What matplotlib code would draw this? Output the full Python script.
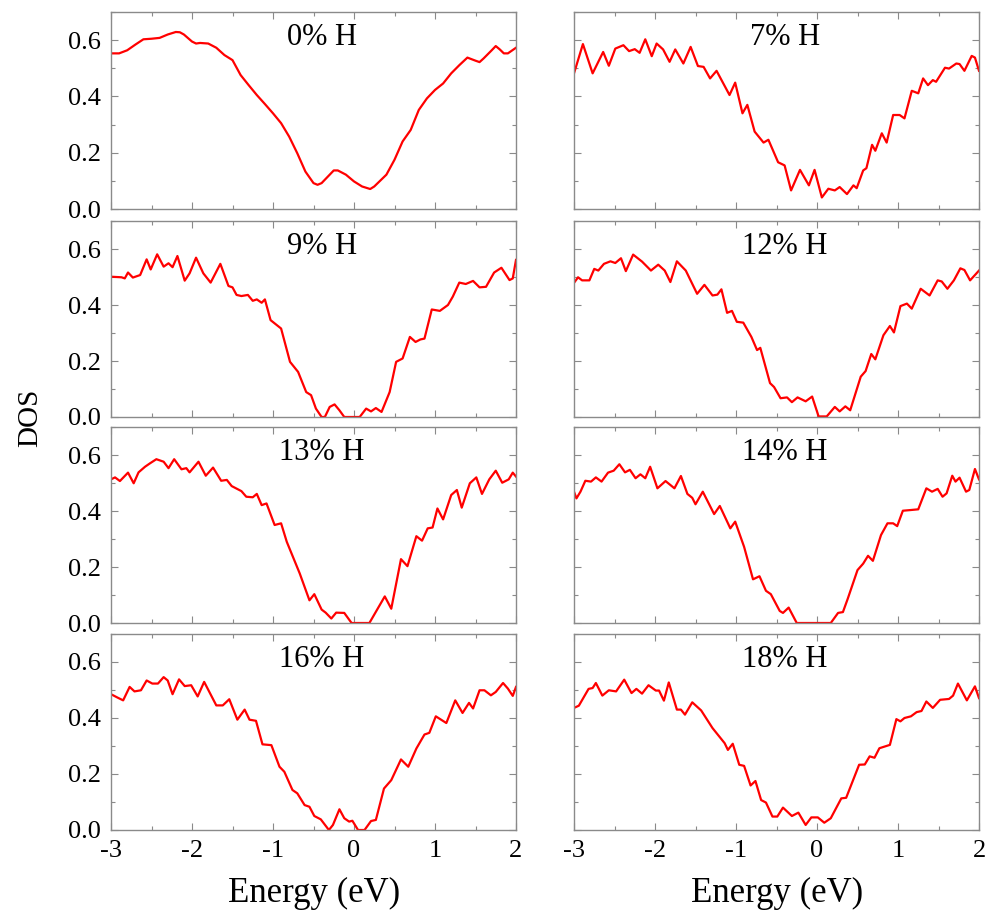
import matplotlib
matplotlib.use("Agg")
import matplotlib.pyplot as plt
from matplotlib.ticker import MultipleLocator

plt.rcParams["font.family"] = ["Liberation Serif", "DejaVu Serif"]

# energy (eV) and DOS
e_0 = [-3.0, -2.9, -2.8, -2.7, -2.6, -2.5, -2.4, -2.3, -2.2, -2.15, -2.1, -2.0, -1.95, -1.9,
       -1.8, -1.7, -1.6, -1.5, -1.4, -1.3, -1.2, -1.1, -1.0, -0.9, -0.8, -0.7, -0.6, -0.5,
       -0.45, -0.4, -0.3, -0.25, -0.2, -0.1, 0.0, 0.1, 0.2, 0.25, 0.3, 0.4, 0.5, 0.6, 0.7,
       0.8, 0.9, 1.0, 1.1, 1.2, 1.3, 1.4, 1.5, 1.55, 1.6, 1.7, 1.75, 1.8, 1.85, 1.9, 2.0]
dos_0 = [0.553, 0.553, 0.564, 0.584, 0.603, 0.605, 0.608, 0.62, 0.629, 0.628, 0.62, 0.595,
         0.588, 0.59, 0.588, 0.573, 0.547, 0.529, 0.476, 0.44, 0.405, 0.373, 0.34, 0.305,
         0.257, 0.198, 0.133, 0.092, 0.086, 0.092, 0.122, 0.137, 0.137, 0.122, 0.098, 0.08,
         0.071, 0.08, 0.094, 0.122, 0.175, 0.24, 0.281, 0.352, 0.393, 0.423, 0.446, 0.482,
         0.511, 0.538, 0.527, 0.522, 0.535, 0.564, 0.579, 0.567, 0.553, 0.553, 0.573]

e_7 = [-3.0, -2.89, -2.77, -2.64, -2.57, -2.49, -2.39, -2.32, -2.25, -2.19, -2.12, -2.04,
       -1.98, -1.9, -1.82, -1.75, -1.65, -1.56, -1.47, -1.4, -1.32, -1.24, -1.08, -1.01,
       -0.92, -0.86, -0.77, -0.66, -0.6, -0.48, -0.4, -0.32, -0.21, -0.1, -0.03, 0.06,
       0.14, 0.22, 0.28, 0.37, 0.45, 0.49, 0.57, 0.61, 0.68, 0.72, 0.8, 0.86, 0.94, 1.02,
       1.08, 1.17, 1.25, 1.31, 1.37, 1.43, 1.47, 1.58, 1.63, 1.72, 1.76, 1.82, 1.91, 1.95, 2.0]
dos_7 = [0.482, 0.586, 0.482, 0.558, 0.509, 0.57, 0.582, 0.561, 0.568, 0.555, 0.603, 0.543,
         0.588, 0.567, 0.523, 0.567, 0.517, 0.576, 0.508, 0.505, 0.464, 0.491, 0.405, 0.449,
         0.34, 0.37, 0.275, 0.236, 0.246, 0.166, 0.155, 0.066, 0.139, 0.084, 0.139, 0.041,
         0.072, 0.066, 0.078, 0.053, 0.084, 0.074, 0.137, 0.145, 0.228, 0.207, 0.269, 0.236,
         0.334, 0.334, 0.322, 0.42, 0.411, 0.464, 0.44, 0.458, 0.452, 0.502, 0.499, 0.517,
         0.515, 0.491, 0.544, 0.538, 0.491]

e_9 = [-3.0, -2.87, -2.83, -2.79, -2.73, -2.64, -2.56, -2.51, -2.43, -2.35, -2.29, -2.24,
       -2.18, -2.09, -2.03, -1.95, -1.86, -1.77, -1.65, -1.55, -1.5, -1.45, -1.39, -1.31,
       -1.25, -1.2, -1.14, -1.1, -1.03, -0.9, -0.79, -0.69, -0.59, -0.53, -0.47, -0.4,
       -0.36, -0.3, -0.24, -0.18, -0.12, 0.07, 0.15, 0.21, 0.27, 0.34, 0.44, 0.52, 0.6,
       0.69, 0.76, 0.82, 0.87, 0.96, 1.06, 1.16, 1.22, 1.3, 1.38, 1.47, 1.55, 1.63, 1.73,
       1.82, 1.92, 1.96, 2.0]
dos_9 = [0.501, 0.499, 0.495, 0.516, 0.498, 0.507, 0.563, 0.527, 0.581, 0.537, 0.549, 0.535,
         0.575, 0.487, 0.513, 0.569, 0.513, 0.48, 0.547, 0.468, 0.463, 0.436, 0.432, 0.436,
         0.415, 0.42, 0.408, 0.42, 0.346, 0.316, 0.197, 0.161, 0.089, 0.078, 0.03, 0.0,
         0.0, 0.036, 0.045, 0.024, 0.0, 0.0, 0.03, 0.02, 0.032, 0.018, 0.089, 0.197, 0.209,
         0.286, 0.268, 0.277, 0.28, 0.384, 0.379, 0.4, 0.43, 0.48, 0.475, 0.486, 0.463,
         0.465, 0.516, 0.533, 0.489, 0.495, 0.561]

e_12 = [-3.0, -2.95, -2.9, -2.81, -2.75, -2.7, -2.63, -2.55, -2.49, -2.42, -2.36, -2.27,
        -2.16, -2.05, -1.96, -1.88, -1.81, -1.73, -1.62, -1.48, -1.39, -1.29, -1.23, -1.18,
        -1.11, -1.05, -0.99, -0.91, -0.81, -0.74, -0.7, -0.58, -0.53, -0.45, -0.37, -0.31,
        -0.24, -0.14, -0.06, 0.02, 0.12, 0.22, 0.28, 0.35, 0.41, 0.54, 0.6, 0.67, 0.72,
        0.82, 0.9, 0.95, 1.03, 1.11, 1.17, 1.28, 1.39, 1.49, 1.54, 1.61, 1.69, 1.77, 1.82,
        1.89, 2.0]
dos_12 = [0.479, 0.499, 0.488, 0.488, 0.529, 0.523, 0.547, 0.556, 0.55, 0.567, 0.521, 0.58,
          0.555, 0.523, 0.544, 0.523, 0.482, 0.556, 0.523, 0.44, 0.472, 0.434, 0.437, 0.456,
          0.372, 0.379, 0.34, 0.337, 0.286, 0.239, 0.247, 0.121, 0.107, 0.067, 0.07, 0.053,
          0.07, 0.056, 0.073, 0.002, 0.002, 0.036, 0.02, 0.038, 0.024, 0.144, 0.164, 0.225,
          0.206, 0.292, 0.325, 0.302, 0.396, 0.405, 0.387, 0.458, 0.434, 0.488, 0.484,
          0.458, 0.488, 0.531, 0.525, 0.488, 0.523]

e_13 = [-3.0, -2.95, -2.89, -2.79, -2.72, -2.66, -2.58, -2.52, -2.44, -2.35, -2.29, -2.22,
        -2.13, -2.07, -2.03, -1.92, -1.83, -1.74, -1.64, -1.57, -1.51, -1.39, -1.33, -1.25,
        -1.2, -1.14, -1.08, -0.98, -0.9, -0.83, -0.67, -0.55, -0.49, -0.4, -0.35, -0.28,
        -0.22, -0.12, -0.03, 0.19, 0.38, 0.46, 0.58, 0.66, 0.77, 0.84, 0.91, 0.97, 1.03,
        1.1, 1.2, 1.27, 1.33, 1.43, 1.51, 1.58, 1.67, 1.75, 1.83, 1.91, 1.96, 2.0]
dos_13 = [0.513, 0.52, 0.507, 0.537, 0.499, 0.538, 0.558, 0.57, 0.585, 0.576, 0.553, 0.585,
          0.549, 0.553, 0.538, 0.576, 0.526, 0.555, 0.508, 0.511, 0.489, 0.471, 0.451,
          0.449, 0.461, 0.421, 0.427, 0.35, 0.356, 0.29, 0.177, 0.081, 0.103, 0.048, 0.037,
          0.016, 0.037, 0.036, 0.0, 0.0, 0.095, 0.051, 0.228, 0.203, 0.31, 0.294, 0.338,
          0.341, 0.409, 0.37, 0.457, 0.475, 0.412, 0.499, 0.52, 0.461, 0.513, 0.544, 0.501,
          0.513, 0.537, 0.523]

e_14 = [-3.0, -2.97, -2.92, -2.86, -2.79, -2.73, -2.66, -2.58, -2.51, -2.44, -2.37, -2.31,
        -2.24, -2.18, -2.12, -2.06, -1.97, -1.87, -1.76, -1.68, -1.6, -1.54, -1.5, -1.41,
        -1.27, -1.2, -1.07, -1.01, -0.9, -0.79, -0.71, -0.63, -0.57, -0.46, -0.42, -0.35,
        -0.25, 0.17, 0.26, 0.32, 0.38, 0.5, 0.57, 0.63, 0.69, 0.79, 0.87, 0.94, 0.99, 1.06,
        1.14, 1.25, 1.35, 1.42, 1.49, 1.55, 1.6, 1.67, 1.71, 1.76, 1.84, 1.88, 1.95, 2.0]
dos_14 = [0.469, 0.445, 0.469, 0.508, 0.505, 0.52, 0.505, 0.537, 0.544, 0.567, 0.538, 0.547,
          0.517, 0.531, 0.517, 0.558, 0.481, 0.507, 0.481, 0.525, 0.461, 0.447, 0.424,
          0.469, 0.389, 0.418, 0.338, 0.362, 0.272, 0.156, 0.167, 0.115, 0.103, 0.043,
          0.036, 0.055, 0.0, 0.0, 0.036, 0.039, 0.087, 0.189, 0.212, 0.24, 0.222, 0.314,
          0.356, 0.356, 0.346, 0.401, 0.403, 0.406, 0.481, 0.469, 0.479, 0.451, 0.463,
          0.526, 0.505, 0.519, 0.469, 0.475, 0.55, 0.513]

e_16 = [-3.0, -2.92, -2.85, -2.77, -2.71, -2.63, -2.56, -2.49, -2.42, -2.35, -2.3, -2.24,
        -2.16, -2.09, -2.01, -1.93, -1.85, -1.7, -1.62, -1.54, -1.44, -1.35, -1.29, -1.21,
        -1.13, -1.02, -0.92, -0.86, -0.76, -0.7, -0.61, -0.55, -0.49, -0.41, -0.31, -0.26,
        -0.18, -0.12, -0.06, -0.02, 0.05, 0.13, 0.21, 0.27, 0.37, 0.46, 0.58, 0.67, 0.77,
        0.87, 0.93, 1.01, 1.14, 1.25, 1.34, 1.42, 1.47, 1.55, 1.61, 1.69, 1.75, 1.84, 1.9,
        1.96, 2.0]
dos_16 = [0.485, 0.473, 0.463, 0.511, 0.495, 0.499, 0.534, 0.523, 0.523, 0.546, 0.534,
          0.485, 0.538, 0.514, 0.517, 0.477, 0.529, 0.445, 0.445, 0.467, 0.394, 0.43, 0.394,
          0.39, 0.306, 0.303, 0.226, 0.208, 0.143, 0.131, 0.089, 0.083, 0.05, 0.038, 0.0,
          0.018, 0.074, 0.042, 0.03, 0.033, 0.0, 0.0, 0.032, 0.036, 0.148, 0.178, 0.252,
          0.226, 0.291, 0.341, 0.347, 0.406, 0.382, 0.463, 0.418, 0.454, 0.434, 0.499,
          0.499, 0.481, 0.493, 0.525, 0.505, 0.479, 0.511]

e_18 = [-3.0, -2.94, -2.82, -2.77, -2.73, -2.65, -2.57, -2.48, -2.38, -2.29, -2.23, -2.16,
        -2.08, -1.99, -1.95, -1.89, -1.83, -1.73, -1.68, -1.63, -1.54, -1.43, -1.29, -1.14,
        -1.1, -1.04, -0.96, -0.9, -0.82, -0.76, -0.69, -0.63, -0.55, -0.49, -0.42, -0.31,
        -0.23, -0.14, -0.07, 0.01, 0.09, 0.17, 0.3, 0.36, 0.52, 0.59, 0.65, 0.71, 0.77,
        0.9, 0.98, 1.03, 1.08, 1.16, 1.23, 1.29, 1.35, 1.43, 1.52, 1.63, 1.68, 1.74, 1.85,
        1.95, 2.0]
dos_18 = [0.436, 0.444, 0.504, 0.507, 0.525, 0.48, 0.499, 0.495, 0.537, 0.489, 0.504, 0.487,
          0.517, 0.498, 0.498, 0.462, 0.527, 0.43, 0.43, 0.412, 0.456, 0.427, 0.364, 0.31,
          0.286, 0.308, 0.233, 0.229, 0.159, 0.175, 0.107, 0.098, 0.048, 0.048, 0.08, 0.05,
          0.062, 0.018, 0.045, 0.045, 0.026, 0.042, 0.113, 0.115, 0.233, 0.234, 0.263,
          0.258, 0.292, 0.304, 0.396, 0.388, 0.4, 0.406, 0.421, 0.425, 0.459, 0.436, 0.465,
          0.468, 0.48, 0.523, 0.463, 0.513, 0.471]

labels = ["0% H", "7% H", "9% H", "12% H", "13% H", "14% H", "16% H", "18% H"]
energies = [e_0, e_7, e_9, e_12, e_13, e_14, e_16, e_18]
dos_values = [dos_0, dos_7, dos_9, dos_12, dos_13, dos_14, dos_16, dos_18]

fig = plt.figure(figsize=(9.91, 9.18), dpi=100)

col_left = [111 / 991, 574 / 991]
col_width = 405 / 991
rows_px = [(12, 209), (221, 417), (427, 623), (634, 830)]
frame_color = "#8a8a8a"

for i, (label, energy, dos) in enumerate(zip(labels, energies, dos_values)):
    row, col = divmod(i, 2)
    top, bottom = rows_px[row]
    ax = fig.add_axes([col_left[col], 1 - bottom / 918, col_width, (bottom - top) / 918])
    ax.plot(energy, dos, color="red", linewidth=1.6)
    ax.set_xlim(-3, 2)
    ax.set_ylim(0, 0.7)
    ax.xaxis.set_major_locator(MultipleLocator(1))
    ax.xaxis.set_minor_locator(MultipleLocator(0.5))
    ax.yaxis.set_major_locator(MultipleLocator(0.2))
    ax.yaxis.set_minor_locator(MultipleLocator(0.1))
    ax.tick_params(which="both", direction="in", top=True, right=True,
                   color=frame_color, labelsize=19, pad=7)
    ax.tick_params(which="major", length=5, width=0.8)
    ax.tick_params(which="minor", length=3, width=0.8)
    for spine in ax.spines.values():
        spine.set_color(frame_color)
        spine.set_linewidth(1.0)
    if col == 1:
        ax.set_yticklabels([])
    else:
        ax.set_yticks([0.0, 0.2, 0.4, 0.6])
        ax.set_yticklabels(["0.0", "0.2", "0.4", "0.6"])
    if row < 3:
        ax.set_xticklabels([])
    else:
        ax.set_xticks([-3, -2, -1, 0, 1, 2])
        ax.set_xticklabels(["-3", "-2", "-1", "0", "1", "2"])
    ax.text(0.52, 0.87, label, transform=ax.transAxes, ha="center", va="center",
            fontsize=22)

fig.text(30 / 991, 1 - 418 / 918, "DOS", rotation=90, ha="center", va="center",
         fontsize=21)
fig.text(314 / 991, 1 - 893 / 918, "Energy (eV)", ha="center", va="center", fontsize=25)
fig.text(777 / 991, 1 - 893 / 918, "Energy (eV)", ha="center", va="center", fontsize=25)

fig.savefig("out.png", dpi=100)
